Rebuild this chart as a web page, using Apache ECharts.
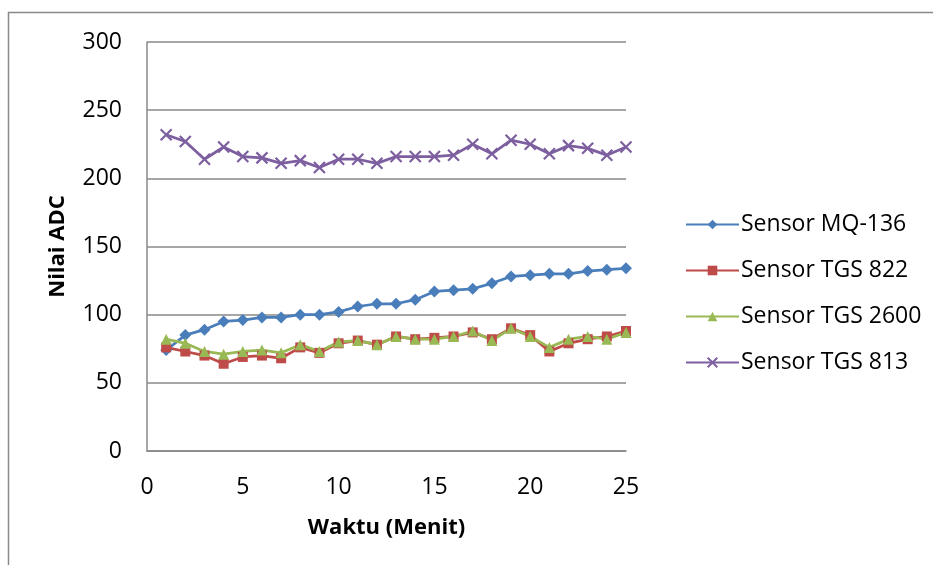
<!DOCTYPE html>
<html>
<head>
<meta charset="utf-8">
<script src="https://cdn.jsdelivr.net/npm/echarts@6/dist/echarts.min.js"></script>
<style>
  html, body { margin: 0; padding: 0; background: #fff; }
  #chart { width: 933px; height: 565px; }
</style>
</head>
<body>
<div id="chart"></div>
<script>
// Sensor readings, one value per minute (minutes 1..25)
const minutes = [1,2,3,4,5,6,7,8,9,10,11,12,13,14,15,16,17,18,19,20,21,22,23,24,25];
const mq136  = [74, 85, 89, 95, 96, 98, 98, 100, 100, 102, 106, 108, 108, 111, 117, 118, 119, 123, 128, 129, 130, 130, 132, 133, 134];
const tgs822 = [76, 73, 70, 64, 69, 70, 68, 76, 72, 79, 81, 78, 84, 82, 83, 84, 87, 82, 90, 85, 73, 79, 82, 84, 88];
const tgs2600 = [82, 79, 73, 71, 73, 74, 72, 78, 73, 80, 81, 78, 84, 82, 82, 84, 88, 81, 90, 84, 76, 82, 84, 82, 87];
const tgs813 = [232, 227, 214, 223, 216, 215, 211, 213, 208, 214, 214, 211, 216, 216, 216, 217, 225, 218, 228, 225, 218, 224, 222, 217, 223];

const seriesNames = ['Sensor MQ-136', 'Sensor TGS 822', 'Sensor TGS 2600', 'Sensor TGS 813'];
const colors = ['#4a7ebb', '#be4b48', '#98b954', '#7d5fa0'];

const xIcon = 'path://M0,0 L10,10 M10,0 L0,10';
const FONT = '"Open Sans", Lato, sans-serif';
const FS = 23;

function pairs(vals) { return minutes.map((m, i) => [m, vals[i]]); }

const chart = echarts.init(document.getElementById('chart'), null, { renderer: 'canvas' });

chart.setOption({
  animation: false,
  backgroundColor: '#ffffff',
  textStyle: { fontFamily: FONT, color: '#000' },
  graphic: [{
    type: 'rect',
    shape: { x: 8.5, y: 12.5, width: 1000, height: 1000 },
    style: { fill: 'none', stroke: '#898989', lineWidth: 1.5 },
    silent: true
  }],
  grid: { left: 147, right: 307, top: 42, bottom: 114, containLabel: false },
  xAxis: {
    type: 'value', min: 0, max: 25, interval: 5,
    name: 'Waktu (Menit)', nameLocation: 'middle', nameGap: 66,
    nameTextStyle: { fontSize: FS - 1, fontWeight: 'bold', fontFamily: FONT, color: '#000' },
    axisLine: { show: true, lineStyle: { color: '#888', width: 1.5 } },
    axisTick: { show: false },
    axisLabel: { fontSize: FS, color: '#000', margin: 25, fontFamily: FONT },
    splitLine: { show: false }
  },
  yAxis: {
    type: 'value', min: 0, max: 300, interval: 50,
    name: 'Nilai ADC', nameLocation: 'middle', nameGap: 78, nameRotate: 90,
    nameTextStyle: { fontSize: FS - 1, fontWeight: 'bold', fontFamily: FONT, color: '#000' },
    axisLine: { show: true, lineStyle: { color: '#888', width: 1.5 } },
    axisTick: { show: false },
    axisLabel: { fontSize: FS, color: '#000', margin: 25, fontFamily: FONT },
    splitLine: { show: true, lineStyle: { color: '#888', width: 1.5 } }
  },
  legend: {
    orient: 'vertical', left: 680, top: 208, itemGap: 23,
    itemWidth: 53, itemHeight: 12,
    textStyle: { fontSize: FS, color: '#000', fontFamily: FONT, padding: [0, 0, 0, -3] },
    data: seriesNames
  },
  series: [
    {
      name: seriesNames[0], type: 'line', data: pairs(mq136),
      symbol: 'diamond', symbolSize: 12,
      itemStyle: { color: colors[0] }, lineStyle: { color: colors[0], width: 2.75 }
    },
    {
      name: seriesNames[1], type: 'line', data: pairs(tgs822),
      symbol: 'rect', symbolSize: 10,
      itemStyle: { color: colors[1] }, lineStyle: { color: colors[1], width: 2.75 }
    },
    {
      name: seriesNames[2], type: 'line', data: pairs(tgs2600),
      symbol: 'triangle', symbolSize: 11,
      itemStyle: { color: colors[2] }, lineStyle: { color: colors[2], width: 2.75 }
    },
    {
      name: seriesNames[3], type: 'line', data: pairs(tgs813),
      symbol: xIcon, symbolSize: 11,
      itemStyle: { color: 'none', borderColor: colors[3], borderWidth: 2.2 },
      lineStyle: { color: colors[3], width: 2.75 }
    }
  ]
});
</script>
</body>
</html>
